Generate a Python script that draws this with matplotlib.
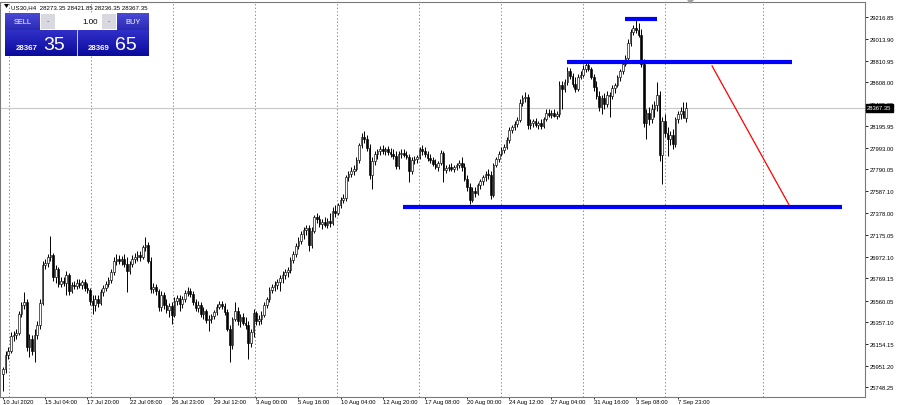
import numpy as np
import matplotlib.pyplot as plt
from matplotlib.patches import Rectangle, Polygon

plt.rcParams['font.family'] = ['Liberation Sans', 'DejaVu Sans']

W, H = 900, 406

# US30 H4 candles, 10 Jul 2020 .. 8 Sep 2020
opens = [
    25872, 25919, 26051, 26088, 26228, 26238, 26256, 26435, 26519, 26547,
    26125, 26200, 26088, 26238, 26332, 26537, 26894, 26912, 26969, 26988,
    26782, 26857, 26716, 26744, 26725, 26801, 26650, 26707, 26697, 26725,
    26707, 26735, 26679, 26660, 26556, 26519, 26575, 26537, 26641, 26679,
    26716, 26754, 26829, 26931, 26950, 26931, 26950, 26903, 26838, 26903,
    26950, 26969, 26988, 26969, 27063, 27082, 26931, 26669, 26688, 26650,
    26500, 26613, 26519, 26473, 26509, 26426, 26556, 26585, 26528, 26575,
    26631, 26650, 26622, 26547, 26491, 26519, 26435, 26463, 26378, 26388,
    26416, 26454, 26500, 26528, 26509, 26454, 26294, 26144, 26388, 26463,
    26369, 26407, 26350, 26332, 26162, 26266, 26444, 26369, 26388, 26426,
    26519, 26575, 26660, 26688, 26707, 26735, 26773, 26801, 26829, 26848,
    26941, 26997, 27072, 27119, 27185, 27222, 27241, 27082, 27213, 27344,
    27325, 27278, 27297, 27269, 27306, 27288, 27400, 27381, 27457, 27504,
    27523, 27719, 27747, 27775, 27794, 27879, 28019, 28094, 28075, 27991,
    27738, 27869, 27935, 27963, 27982, 27963, 27982, 27954, 27935, 27916,
    27822, 27935, 27944, 27926, 27907, 27775, 27879, 27888, 27907, 27982,
    27963, 27935, 27898, 27879, 27841, 27813, 27850, 27944, 27785, 27804,
    27813, 27794, 27813, 27832, 27850, 27813, 27700, 27625, 27504, 27588,
    27569, 27644, 27681, 27719, 27747, 27738, 27551, 27832, 27888, 27935,
    27972, 28000, 28066, 28160, 28188, 28216, 28254, 28413, 28460, 28469,
    28207, 28226, 28244, 28207, 28226, 28197, 28263, 28319, 28300, 28319,
    28291, 28310, 28582, 28544, 28610, 28713, 28666, 28591, 28544, 28657,
    28676, 28732, 28769, 28732, 28657, 28563, 28479, 28375, 28460, 28403,
    28488, 28479, 28554, 28582, 28657, 28713, 28779, 28835, 28975, 29079,
    29116, 29097, 29051, 28779, 28226, 28319, 28263, 28357, 28394, 28488,
    27926, 28244, 28131, 28075, 28113, 28028, 28263, 28310, 28338, 28273.35,
]
highs = [
    25938, 26088, 26125, 26266, 26275, 26294, 26463, 26547, 26641, 26575,
    26247, 26238, 26294, 26369, 26575, 26931, 26950, 26997, 27166, 27006,
    26894, 26875, 26782, 26782, 26838, 26819, 26735, 26744, 26763, 26763,
    26754, 26763, 26725, 26679, 26613, 26613, 26613, 26669, 26707, 26744,
    26782, 26857, 26969, 26997, 26988, 26978, 26997, 26969, 26931, 26988,
    27006, 27025, 27025, 27082, 27157, 27110, 26969, 26725, 26716, 26669,
    26650, 26641, 26575, 26537, 26547, 26594, 26613, 26613, 26603, 26660,
    26688, 26679, 26650, 26575, 26556, 26547, 26500, 26482, 26426, 26435,
    26473, 26528, 26556, 26556, 26537, 26482, 26332, 26407, 26547, 26500,
    26435, 26444, 26407, 26369, 26294, 26482, 26463, 26426, 26463, 26547,
    26594, 26688, 26716, 26744, 26763, 26801, 26838, 26857, 26875, 26969,
    27025, 27100, 27157, 27213, 27250, 27269, 27269, 27250, 27363, 27381,
    27363, 27325, 27344, 27335, 27381, 27438, 27457, 27475, 27532, 27560,
    27738, 27775, 27813, 27832, 27907, 28037, 28131, 28150, 28113, 28028,
    27907, 27963, 27982, 28010, 28019, 28000, 28010, 27991, 27982, 27963,
    27963, 27982, 27982, 27963, 27935, 27907, 27916, 27926, 28000, 28019,
    28000, 27963, 27935, 27907, 27888, 27869, 27972, 27963, 27832, 27841,
    27850, 27832, 27850, 27879, 27907, 27850, 27738, 27663, 27625, 27625,
    27663, 27700, 27738, 27775, 27794, 27775, 27850, 27907, 27963, 28000,
    28028, 28094, 28188, 28207, 28244, 28282, 28450, 28488, 28516, 28497,
    28263, 28263, 28272, 28244, 28263, 28282, 28357, 28357, 28347, 28357,
    28338, 28619, 28619, 28638, 28751, 28741, 28694, 28657, 28685, 28713,
    28769, 28797, 28807, 28751, 28685, 28619, 28525, 28488, 28507, 28525,
    28516, 28582, 28601, 28676, 28732, 28807, 28863, 29013, 29107, 29144,
    29200, 29163, 29107, 28826, 28357, 28375, 28403, 28432, 28610, 28525,
    28282, 28310, 28188, 28150, 28169, 28282, 28338, 28375, 28422, 28421.85,
]
lows = [
    25713, 25881, 26013, 26069, 26181, 26200, 26238, 26407, 26482, 26088,
    26032, 26051, 25985, 26200, 26294, 26519, 26857, 26875, 26931, 26744,
    26725, 26688, 26688, 26697, 26613, 26613, 26631, 26669, 26669, 26679,
    26669, 26650, 26631, 26519, 26435, 26463, 26500, 26519, 26603, 26650,
    26688, 26725, 26801, 26894, 26903, 26894, 26875, 26641, 26810, 26875,
    26912, 26931, 26931, 26950, 27025, 26912, 26631, 26631, 26613, 26463,
    26463, 26482, 26444, 26407, 26341, 26407, 26519, 26463, 26491, 26547,
    26603, 26594, 26519, 26463, 26454, 26407, 26388, 26350, 26275, 26350,
    26388, 26426, 26482, 26482, 26426, 26275, 25985, 26107, 26369, 26332,
    26313, 26332, 26294, 26013, 26125, 26219, 26332, 26332, 26341, 26407,
    26491, 26547, 26631, 26650, 26669, 26650, 26725, 26763, 26782, 26819,
    26912, 26969, 27044, 27091, 27138, 27176, 27025, 27053, 27194, 27288,
    27250, 27232, 27250, 27241, 27250, 27269, 27344, 27363, 27429, 27475,
    27494, 27681, 27719, 27738, 27775, 27850, 27991, 28037, 27963, 27700,
    27607, 27832, 27888, 27926, 27935, 27926, 27926, 27907, 27888, 27794,
    27794, 27898, 27907, 27888, 27672, 27747, 27841, 27850, 27888, 27926,
    27907, 27869, 27850, 27822, 27794, 27775, 27832, 27672, 27757, 27775,
    27775, 27766, 27785, 27804, 27775, 27681, 27588, 27466, 27485, 27532,
    27551, 27607, 27644, 27681, 27700, 27513, 27532, 27813, 27860, 27916,
    27944, 27982, 28037, 28131, 28160, 28188, 28235, 28385, 28422, 28169,
    28169, 28188, 28188, 28169, 28169, 28179, 28244, 28282, 28272, 28282,
    28263, 28282, 28357, 28516, 28582, 28638, 28563, 28516, 28525, 28638,
    28657, 28704, 28713, 28638, 28525, 28450, 28338, 28310, 28357, 28375,
    28282, 28450, 28507, 28563, 28619, 28685, 28760, 28807, 28947, 29051,
    29069, 29032, 28751, 28188, 28075, 28207, 28226, 28282, 28338, 27869,
    27653, 28094, 27916, 28019, 27982, 28000, 28226, 28263, 28282, 28236.35,
]
closes = [
    25919, 26051, 26088, 26228, 26238, 26256, 26435, 26519, 26547, 26125,
    26200, 26088, 26238, 26332, 26537, 26894, 26912, 26969, 26988, 26782,
    26857, 26716, 26744, 26725, 26801, 26650, 26707, 26697, 26725, 26707,
    26735, 26679, 26660, 26556, 26519, 26575, 26537, 26641, 26679, 26716,
    26754, 26829, 26931, 26950, 26931, 26950, 26903, 26838, 26903, 26950,
    26969, 26988, 26969, 27063, 27082, 26931, 26669, 26688, 26650, 26500,
    26613, 26519, 26473, 26509, 26426, 26556, 26585, 26528, 26575, 26631,
    26650, 26622, 26547, 26491, 26519, 26435, 26463, 26378, 26388, 26416,
    26454, 26500, 26528, 26509, 26454, 26294, 26144, 26388, 26463, 26369,
    26407, 26350, 26332, 26162, 26266, 26444, 26369, 26388, 26426, 26519,
    26575, 26660, 26688, 26707, 26735, 26773, 26801, 26829, 26848, 26941,
    26997, 27072, 27119, 27185, 27222, 27241, 27082, 27213, 27344, 27325,
    27278, 27297, 27269, 27306, 27288, 27400, 27381, 27457, 27504, 27523,
    27719, 27747, 27775, 27794, 27879, 28019, 28094, 28075, 27991, 27738,
    27869, 27935, 27963, 27982, 27963, 27982, 27954, 27935, 27916, 27822,
    27935, 27944, 27926, 27907, 27775, 27879, 27888, 27907, 27982, 27963,
    27935, 27898, 27879, 27841, 27813, 27850, 27944, 27785, 27804, 27813,
    27794, 27813, 27832, 27850, 27813, 27700, 27625, 27504, 27588, 27569,
    27644, 27681, 27719, 27747, 27738, 27551, 27832, 27888, 27935, 27972,
    28000, 28066, 28160, 28188, 28216, 28254, 28413, 28460, 28469, 28207,
    28226, 28244, 28207, 28226, 28197, 28263, 28319, 28300, 28319, 28291,
    28310, 28582, 28544, 28610, 28713, 28666, 28591, 28544, 28657, 28676,
    28732, 28769, 28732, 28657, 28563, 28479, 28375, 28460, 28403, 28488,
    28479, 28554, 28582, 28657, 28713, 28779, 28835, 28975, 29079, 29116,
    29097, 29051, 28779, 28226, 28319, 28263, 28357, 28394, 28488, 27926,
    28244, 28131, 28075, 28113, 28028, 28263, 28310, 28338, 28273.35, 28367.35,
]

time_labels = ["10 Jul 2020", "15 Jul 04:00", "17 Jul 20:00", "22 Jul 08:00",
               "26 Jul 23:00", "29 Jul 12:00", "3 Aug 00:00", "5 Aug 16:00",
               "10 Aug 04:00", "12 Aug 20:00", "17 Aug 08:00", "20 Aug 00:00",
               "24 Aug 12:00", "27 Aug 04:00", "31 Aug 16:00", "3 Sep 08:00",
               "7 Sep 23:00"]
label_bars = [0, 16, 32, 48, 64, 80, 96, 112, 128, 144, 160, 176, 192, 208,
              224, 240, 256]
price_ticks = [29216.85, 29013.90, 28810.95, 28608.00, 28405.05, 28195.95,
               27993.00, 27790.05, 27587.10, 27378.00, 27175.05, 26972.10,
               26769.15, 26560.05, 26357.10, 26154.15, 25951.20, 25748.25]

bid = 28367.35
header = "US30,H4  28273.35 28421.85 28236.35 28367.35"

# drawn levels: (first bar, last bar, price)
top_level = (235.9, 248.0, 29196)
mid_level = (213.9, 299.2, 28797)
low_level = (151.7, 318.2, 27438)
# red projection line: bars, prices
arrow_bars = [268.9, 298.1]
arrow_prices = [28760, 27457]

# ---------------------------------------------------------------
fig = plt.figure(figsize=(W / 100, H / 100), dpi=100)
fig.patch.set_facecolor('white')

step = 2.637            # pixels per bar
ax = fig.add_axes([0, (H - 398) / H, 865 / W, 395 / H])
ax.set_xlim(-3 / step, (865 - 3) / step)
ax.set_ylim(29388 - 9.375 * 398, 29388 - 9.375 * 3)

o = np.array(opens, dtype=float)
c = np.array(closes, dtype=float)
hi = np.array(highs, dtype=float)
lo = np.array(lows, dtype=float)
x = np.arange(len(c))
up = c >= o
bottom = np.minimum(o, c)
height = np.maximum(np.abs(c - o), 6)

# vertical grid (pixel columns of the terminal grid)
for px in [9, 91, 173, 255, 337, 419, 501, 583, 665, 763]:
    ax.axvline((px - 3) / step, color='#8c8c8c', lw=0.7,
               linestyle=(0, (1.4, 2.2)), zorder=0.5)

ax.axhline(bid, color='#c8c8c8', lw=0.8, zorder=1)

ax.vlines(x, lo, hi, color='black', lw=0.7, zorder=2)
ax.bar(x[up], height[up], bottom=bottom[up], width=0.62, color='white',
       edgecolor='black', linewidth=0.45, zorder=3)
ax.bar(x[~up], height[~up], bottom=bottom[~up], width=0.62, color='black',
       edgecolor='black', linewidth=0.45, zorder=3)

for lv in (top_level, mid_level, low_level):
    ax.hlines(lv[2], lv[0], lv[1], color='#0000ff', lw=3.0, zorder=4)
ax.plot(arrow_bars, arrow_prices, color='red', lw=0.9, zorder=4)

# axes look
for s in ax.spines.values():
    s.set_color('#7a7a7a')
    s.set_linewidth(0.8)

ax.yaxis.tick_right()
ax.set_yticks(price_ticks)
ax.set_yticklabels([f"{v:.2f}" for v in price_ticks])
ax.tick_params(axis='y', length=2, width=0.6, pad=1.2, labelsize=4.2,
               colors='black')
ax.set_xticks(label_bars)
ax.set_xticklabels(time_labels, ha='left')
ax.tick_params(axis='x', length=1.5, width=0.6, pad=0.2, labelsize=4.2,
               colors='black')

ax.annotate(f"{bid:.2f}", xy=(1, bid), xycoords=('axes fraction', 'data'),
            xytext=(1.6, 0), textcoords='offset points', va='center',
            ha='left', fontsize=4.2, color='white',
            bbox=dict(boxstyle='square,pad=0.2', fc='black', ec='black'),
            annotation_clip=False)

# header line
fig.text(11 / W, 1 - 7.5 / H, header, fontsize=4.4, va='center', ha='left')
fig.patches.append(Polygon([[4 / W, 1 - 5 / H], [9 / W, 1 - 5 / H],
                            [6.5 / W, 1 - 9 / H]], closed=True,
                           transform=fig.transFigure, fc='black', ec='none'))
# chart shift marker
fig.patches.append(Polygon([[687 / W, 1 - 1 / H], [694 / W, 1 - 1 / H],
                            [690.5 / W, 1 - 5 / H]], closed=True,
                           transform=fig.transFigure, fc='#a0a0a0', ec='none'))


# one-click trading panel
def gradient_box(x0, y0, x1, y1, top, bot):
    gax = fig.add_axes([x0 / W, 1 - y1 / H, (x1 - x0) / W, (y1 - y0) / H])
    t = np.linspace(0, 1, 32)[:, None]
    col = np.array(top)[None, :] * (1 - t) + np.array(bot)[None, :] * t
    gax.imshow(col[:, None, :], aspect='auto', extent=(0, 1, 0, 1))
    gax.set_axis_off()
    return gax


def hexrgb(h):
    return [int(h[i:i + 2], 16) / 255 for i in (1, 3, 5)]


gradient_box(5, 14, 40, 31, hexrgb('#4a4ad8'), hexrgb('#2a2ab4'))
gradient_box(117, 14, 149, 31, hexrgb('#4a4ad8'), hexrgb('#2a2ab4'))
gradient_box(5, 31, 77, 57, hexrgb('#3030c8'), hexrgb('#0a0a9c'))
gradient_box(78, 31, 149, 57, hexrgb('#3030c8'), hexrgb('#0a0a9c'))


def px_rect(x0, y0, x1, y1, **kw):
    fig.patches.append(Rectangle((x0 / W, 1 - y1 / H), (x1 - x0) / W,
                                 (y1 - y0) / H, transform=fig.transFigure,
                                 **kw))


px_rect(40, 14, 117, 31, fc='white', ec='none')
px_rect(41, 15, 55, 30, fc='#d8d8e0', ec='none')
px_rect(102, 15, 116, 30, fc='#d8d8e0', ec='none')
px_rect(77, 31, 78, 57, fc='#c8c8e8', ec='none')
fig.text(48 / W, 1 - 22 / H, "-", fontsize=5, ha='center', va='center',
         color='#606060')
fig.text(109 / W, 1 - 22 / H, "-", fontsize=5, ha='center', va='center',
         color='#606060')
fig.text(98 / W, 1 - 22.5 / H, "1.00", fontsize=5.8, ha='right', va='center')
fig.text(22.5 / W, 1 - 22.5 / H, "SELL", fontsize=5.3, ha='center',
         va='center', color='white')
fig.text(133 / W, 1 - 22.5 / H, "BUY", fontsize=5.3, ha='center',
         va='center', color='white')
fig.text(16 / W, 1 - 50 / H, "28367", fontsize=5.7, fontweight='bold',
         ha='left', va='baseline', color='white')
fig.text(43 / W, 1 - 50 / H, "35", fontsize=14, ha='left', va='baseline',
         color='white')
fig.text(88 / W, 1 - 50 / H, "28369", fontsize=5.7, fontweight='bold',
         ha='left', va='baseline', color='white')
fig.text(115 / W, 1 - 50 / H, "65", fontsize=14, ha='left', va='baseline',
         color='white')

fig.savefig("out.png", dpi=100)
